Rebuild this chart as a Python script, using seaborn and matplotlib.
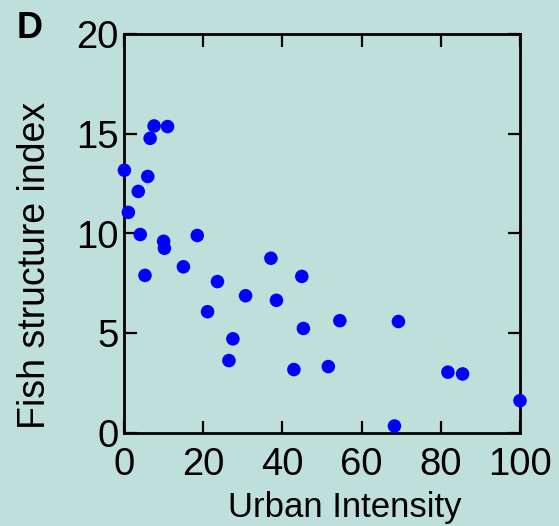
import matplotlib
matplotlib.use("Agg")
import matplotlib.pyplot as plt
import seaborn as sns
import pandas as pd

urban = [0.1, 1.1, 3.6, 4.1, 5.3, 6.0, 6.6, 7.6, 10.0, 10.2, 11.0, 15.0, 18.5,
         21.1, 23.6, 26.5, 27.5, 30.7, 37.1, 38.5, 42.9, 44.9, 45.3, 51.6,
         54.5, 68.3, 69.3, 81.8, 85.5, 100.0]
fish = [13.17, 11.06, 12.11, 9.95, 7.9, 12.86, 14.77, 15.39, 9.61, 9.26, 15.36,
        8.33, 9.9, 6.08, 7.59, 3.63, 4.72, 6.88, 8.76, 6.65, 3.18, 7.85, 5.24,
        3.33, 5.63, 0.35, 5.59, 3.05, 2.96, 1.62]
xticks = [0, 20, 40, 60, 80, 100]
yticks = [0, 5, 10, 15, 20]

df = pd.DataFrame({"Urban Intensity": urban, "Fish structure index": fish})

bg = "#bfe0da"
sns.set_theme(style="ticks")
plt.rcParams["font.family"] = ["Liberation Sans", "DejaVu Sans"]

fig = plt.figure(figsize=(5.59, 5.26), dpi=100, facecolor=bg)
ax = fig.add_axes([124 / 559, 1 - 433 / 526, (520 - 124) / 559, (433 - 34) / 526])
ax.set_facecolor(bg)

sns.scatterplot(data=df, x="Urban Intensity", y="Fish structure index", ax=ax,
                color="#0000ff", s=95, edgecolor="none", clip_on=False, zorder=3)

ax.set_xlim(0, 100)
ax.set_ylim(0, 20)
ax.set_xticks(xticks)
ax.set_yticks(yticks)
for sp in ax.spines.values():
    sp.set_linewidth(2.0)
    sp.set_color("black")
ax.tick_params(direction="in", length=9, width=1.6, color="black",
               labelsize=27.5, top=True, right=True, labelcolor="black")
ax.tick_params(axis="x", pad=10)
ax.tick_params(axis="y", pad=4)
ax.set_xlabel("Urban Intensity", fontsize=25, color="black")
ax.set_ylabel("Fish structure index", fontsize=27, color="black")
ax.xaxis.set_label_coords(0.558, -0.145)
ax.yaxis.set_label_coords(-0.18, 0.42)

fig.text(17 / 559, 1 - 38 / 526, "D", fontsize=26, fontweight="bold", color="black")

fig.savefig("out.png", dpi=100, facecolor=bg)
